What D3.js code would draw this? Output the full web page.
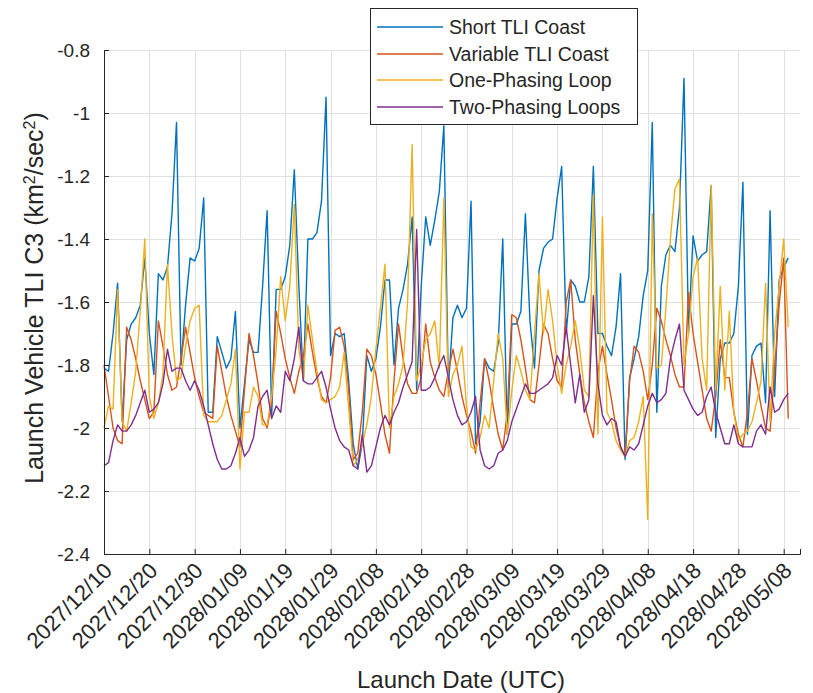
<!DOCTYPE html>
<html>
<head>
<meta charset="utf-8">
<script src="https://cdn.jsdelivr.net/npm/d3@7"></script>
<style>
  html, body { margin: 0; padding: 0; background: #fff; }
  svg { display: block; font-family: "Liberation Sans", Arial, Helvetica, sans-serif; }
</style>
</head>
<body>
<svg id="chart" width="813" height="693"></svg>
<script>
// Daily TLI C3 per launch date, starting 2027/12/10
const startDate = "2027-12-10";

const shortCoast = [
  -1.81,-1.82,-1.70,-1.54,-1.98,-1.72,-1.67,-1.65,-1.61,-1.46,
  -1.70,-1.83,-1.51,-1.53,-1.49,-1.32,-1.03,-1.80,-1.61,-1.46,
  -1.47,-1.43,-1.27,-1.95,-1.95,-1.71,-1.76,-1.81,-1.78,-1.63,
  -2.00,-1.86,-1.72,-1.76,-1.76,-1.55,-1.31,-1.96,-1.56,-1.56,
  -1.52,-1.42,-1.18,-1.55,-1.85,-1.40,-1.40,-1.38,-1.28,-0.95,
  -1.77,-1.70,-1.71,-1.70,-1.85,-2.05,-2.13,-2.05,-1.77,-1.82,
  -1.78,-1.68,-1.53,-1.53,-1.80,-1.62,-1.56,-1.48,-1.33,-1.88,
  -1.55,-1.33,-1.42,-1.34,-1.25,-1.04,-1.87,-1.65,-1.61,-1.65,
  -1.62,-1.28,-2.05,-1.98,-1.78,-1.81,-1.82,-1.73,-1.40,-2.02,
  -1.67,-1.67,-1.63,-1.32,-1.66,-1.81,-1.50,-1.43,-1.41,-1.40,
  -1.27,-1.17,-1.70,-1.53,-1.55,-1.60,-1.60,-1.52,-1.17,-1.70,
  -1.70,-1.74,-1.77,-1.68,-1.51,-2.10,-1.84,-1.78,-1.71,-1.58,
  -1.50,-1.03,-1.95,-1.55,-1.45,-1.42,-1.44,-1.30,-0.89,-1.70,
  -1.39,-1.47,-1.45,-1.44,-1.23,-2.03,-1.78,-1.73,-1.73,-1.70,
  -1.55,-1.22,-2.02,-1.77,-1.74,-1.73,-1.92,-1.31,-1.90,-1.53,
  -1.49,-1.46
];

const variableCoast = [
  -1.80,-1.90,-2.00,-2.04,-2.05,-1.68,-1.72,-1.78,-1.85,-1.91,
  -1.97,-1.95,-1.66,-1.74,-1.83,-1.88,-1.87,-1.78,-1.68,-1.76,
  -1.84,-1.90,-1.95,-1.96,-1.97,-1.74,-1.82,-1.90,-1.96,-2.01,
  -2.06,-1.88,-1.70,-1.77,-1.86,-1.97,-2.00,-1.92,-1.63,-1.70,
  -1.78,-1.84,-1.89,-1.82,-1.77,-1.67,-1.76,-1.84,-1.90,-1.92,
  -1.84,-1.69,-1.68,-1.74,-1.88,-2.10,-2.08,-1.95,-1.75,-1.77,
  -1.83,-1.92,-2.02,-2.08,-1.85,-1.67,-1.78,-1.86,-1.89,-1.89,
  -1.84,-1.67,-1.79,-1.84,-1.88,-1.90,-1.82,-1.75,-1.82,-1.90,
  -1.96,-2.01,-2.08,-1.92,-1.78,-1.85,-1.94,-2.02,-2.07,-1.95,
  -1.64,-1.65,-1.72,-1.81,-1.91,-1.92,-1.80,-1.67,-1.70,-1.78,
  -1.85,-1.87,-1.60,-1.53,-1.72,-1.83,-1.92,-1.98,-2.03,-1.82,
  -1.74,-1.83,-1.91,-2.00,-2.06,-2.09,-1.85,-1.74,-1.76,-1.82,
  -1.91,-1.80,-1.62,-1.66,-1.72,-1.77,-1.83,-1.87,-1.87,-1.57,
  -1.70,-1.79,-1.88,-1.97,-2.01,-1.90,-1.72,-1.84,-1.84,-1.95,
  -2.02,-2.06,-1.95,-1.78,-1.85,-1.93,-2.00,-2.01,-1.82,-1.61,
  -1.46,-1.97
];

const onePhasing = [
  -2.00,-1.93,-1.94,-1.56,-1.98,-2.01,-1.92,-1.82,-1.63,-1.40,
  -1.90,-1.97,-1.92,-1.83,-1.48,-1.70,-1.85,-1.84,-1.74,-1.66,
  -1.62,-1.61,-1.96,-1.98,-1.98,-1.98,-1.96,-1.91,-1.86,-1.75,
  -2.13,-1.95,-1.95,-1.87,-1.90,-1.99,-1.99,-1.90,-1.75,-1.52,
  -1.66,-1.55,-1.29,-1.75,-1.85,-1.61,-1.72,-1.82,-1.91,-1.92,
  -1.91,-1.90,-1.87,-1.76,-1.94,-2.12,-2.10,-2.05,-1.99,-1.90,
  -1.75,-1.62,-1.48,-2.00,-1.90,-1.86,-1.80,-1.60,-1.10,-1.85,
  -1.80,-1.72,-1.70,-1.66,-1.81,-1.27,-1.90,-1.83,-1.80,-1.74,
  -1.93,-2.06,-2.07,-2.03,-1.96,-2.00,-1.85,-1.70,-1.78,-2.02,
  -1.88,-1.77,-1.82,-1.88,-1.91,-1.70,-1.51,-1.70,-1.56,-1.66,
  -1.80,-1.89,-1.80,-1.74,-1.66,-1.75,-1.88,-1.90,-1.26,-2.02,
  -1.33,-1.95,-1.98,-2.04,-2.07,-2.09,-2.04,-2.03,-1.98,-1.90,
  -2.29,-1.32,-1.81,-1.80,-1.62,-1.40,-1.24,-1.21,-1.80,-1.70,
  -1.52,-1.46,-1.78,-1.88,-1.23,-1.88,-1.55,-1.88,-1.63,-1.95,
  -2.04,-2.02,-2.01,-1.98,-1.92,-1.85,-1.54,-1.98,-1.70,-1.55,
  -1.40,-1.68
];

const twoPhasing = [
  -2.12,-2.11,-2.04,-1.99,-2.01,-2.01,-1.99,-1.96,-1.92,-1.88,
  -1.95,-1.94,-1.92,-1.86,-1.75,-1.82,-1.81,-1.81,-1.85,-1.88,
  -1.85,-1.88,-1.93,-1.99,-2.05,-2.10,-2.13,-2.13,-2.12,-2.08,
  -2.03,-2.09,-2.07,-2.03,-1.93,-1.90,-1.88,-1.97,-1.93,-1.95,
  -1.82,-1.85,-1.78,-1.68,-1.85,-1.86,-1.86,-1.84,-1.82,-1.87,
  -1.94,-2.00,-2.04,-2.06,-2.07,-2.12,-2.13,-2.02,-2.14,-2.12,
  -2.06,-2.00,-1.96,-1.99,-1.95,-1.92,-1.87,-1.83,-1.79,-1.37,
  -1.88,-1.88,-1.87,-1.84,-1.80,-1.77,-1.84,-1.91,-1.96,-1.99,
  -1.98,-1.95,-1.90,-2.07,-2.12,-2.13,-2.12,-2.08,-2.07,-2.04,
  -1.98,-1.94,-1.90,-1.86,-1.89,-1.89,-1.88,-1.87,-1.86,-1.84,
  -1.77,-1.80,-1.68,-1.80,-1.92,-1.83,-1.95,-1.91,-1.58,-1.86,
  -1.96,-1.99,-1.97,-1.98,-2.06,-2.09,-2.06,-2.07,-2.05,-1.99,
  -1.93,-1.89,-1.92,-1.91,-1.89,-1.78,-1.72,-1.67,-1.88,-1.91,
  -1.94,-1.96,-1.95,-1.90,-1.87,-1.95,-2.00,-2.05,-2.05,-1.99,
  -2.05,-2.06,-2.06,-2.06,-2.01,-1.99,-2.02,-1.87,-1.95,-1.94,
  -1.91,-1.89
];

const seriesNames = ["Short TLI Coast", "Variable TLI Coast", "One-Phasing Loop", "Two-Phasing Loops"];
const seriesColors = ["#0072BD", "#D95319", "#EDB120", "#7E2F8E"];
const yTicks = [-2.4, -2.2, -2, -1.8, -1.6, -1.4, -1.2, -1, -0.8];
const xTickDates = ["2027-12-10","2027-12-20","2027-12-30","2028-01-09","2028-01-19","2028-01-29",
  "2028-02-08","2028-02-18","2028-02-28","2028-03-09","2028-03-19","2028-03-29",
  "2028-04-08","2028-04-18","2028-04-28","2028-05-08"];

(function draw() {
  const parse = d3.utcParse("%Y-%m-%d");
  const fmt = d3.utcFormat("%Y/%m/%d");
  const t0 = parse(startDate);
  const dayMs = 86400000;

  const plotL = 104, plotR = 800, plotT = 50, plotB = 554;
  const x = d3.scaleUtc()
    .domain([t0, new Date(+t0 + 153.6 * dayMs)])
    .range([plotL, plotR]);
  const y = d3.scaleLinear().domain([-2.4, -0.8]).range([plotB, plotT]);

  const svg = d3.select("#chart");
  const axisColor = "#262626";
  const fontFam = "Liberation Sans, Arial, sans-serif";

  // grid
  const grid = svg.append("g").attr("stroke", "#e0e0e0").attr("stroke-width", 1);
  yTicks.forEach(v => {
    grid.append("line").attr("x1", plotL).attr("x2", plotR)
      .attr("y1", Math.round(y(v)) + 0.5).attr("y2", Math.round(y(v)) + 0.5);
  });
  xTickDates.forEach(s => {
    const xx = Math.round(x(parse(s))) + 0.5;
    grid.append("line").attr("x1", xx).attr("x2", xx).attr("y1", plotT).attr("y2", plotB);
  });

  // series
  const all = [shortCoast, variableCoast, onePhasing, twoPhasing];
  const line = d3.line()
    .x((d, i) => x(new Date(+t0 + i * dayMs)))
    .y(d => y(d));
  all.forEach((s, k) => {
    svg.append("path").datum(s)
      .attr("fill", "none")
      .attr("stroke", seriesColors[k])
      .attr("stroke-width", 1.4)
      .attr("stroke-linejoin", "round")
      .attr("d", line);
  });

  // axes
  const yAxis = d3.axisLeft(y).tickValues(yTicks).tickSize(-5).tickPadding(14)
    .tickFormat(d => String(+d.toFixed(1)));
  const gy = svg.append("g").attr("transform", `translate(${plotL},0)`).call(yAxis);
  gy.select(".domain").attr("stroke", axisColor);
  gy.selectAll(".tick line").attr("stroke", axisColor);
  gy.selectAll(".tick text").attr("fill", axisColor).attr("font-size", 19)
    .attr("font-family", fontFam);

  const xAxis = d3.axisBottom(x).tickValues(xTickDates.map(parse)).tickSize(-5)
    .tickFormat(fmt);
  const gx = svg.append("g").attr("transform", `translate(0,${plotB})`).call(xAxis);
  gx.select(".domain").attr("stroke", axisColor);
  gx.selectAll(".tick line").attr("stroke", axisColor);
  gx.selectAll(".tick text")
    .attr("fill", axisColor).attr("font-size", 22)
    .attr("font-family", fontFam)
    .attr("text-anchor", "end")
    .attr("dy", null)
    .attr("y", 0)
    .attr("transform", "translate(9,18) rotate(-45)");

  // axis labels
  svg.append("text")
    .attr("x", 461).attr("y", 688)
    .attr("text-anchor", "middle").attr("fill", axisColor).attr("font-size", 24)
    .attr("font-family", fontFam)
    .text("Launch Date (UTC)");

  const yl = svg.append("text")
    .attr("transform", `translate(43,${(plotT + plotB) / 2 - 4}) rotate(-90)`)
    .attr("text-anchor", "middle").attr("fill", axisColor).attr("font-size", 25)
    .attr("font-family", fontFam);
  yl.append("tspan").text("Launch Vehicle TLI C3 (km");
  yl.append("tspan").attr("baseline-shift", "super").attr("font-size", 16).text("2");
  yl.append("tspan").text("/sec");
  yl.append("tspan").attr("baseline-shift", "super").attr("font-size", 16).text("2");
  yl.append("tspan").text(")");

  // legend
  const lg = svg.append("g");
  lg.append("rect").attr("x", 370.5).attr("y", 8.5).attr("width", 267).attr("height", 116)
    .attr("fill", "#fff").attr("stroke", axisColor).attr("stroke-width", 1);
  const rowY = [27, 54, 80, 107];
  seriesNames.forEach((n, k) => {
    lg.append("line").attr("x1", 377).attr("x2", 443).attr("y1", rowY[k]).attr("y2", rowY[k])
      .attr("stroke", seriesColors[k]).attr("stroke-width", 1.4);
    lg.append("text").attr("x", 449).attr("y", rowY[k]).attr("dy", "0.35em")
      .attr("fill", axisColor).attr("font-size", 19.5).attr("font-family", fontFam).text(n);
  });
})();
</script>
</body>
</html>
